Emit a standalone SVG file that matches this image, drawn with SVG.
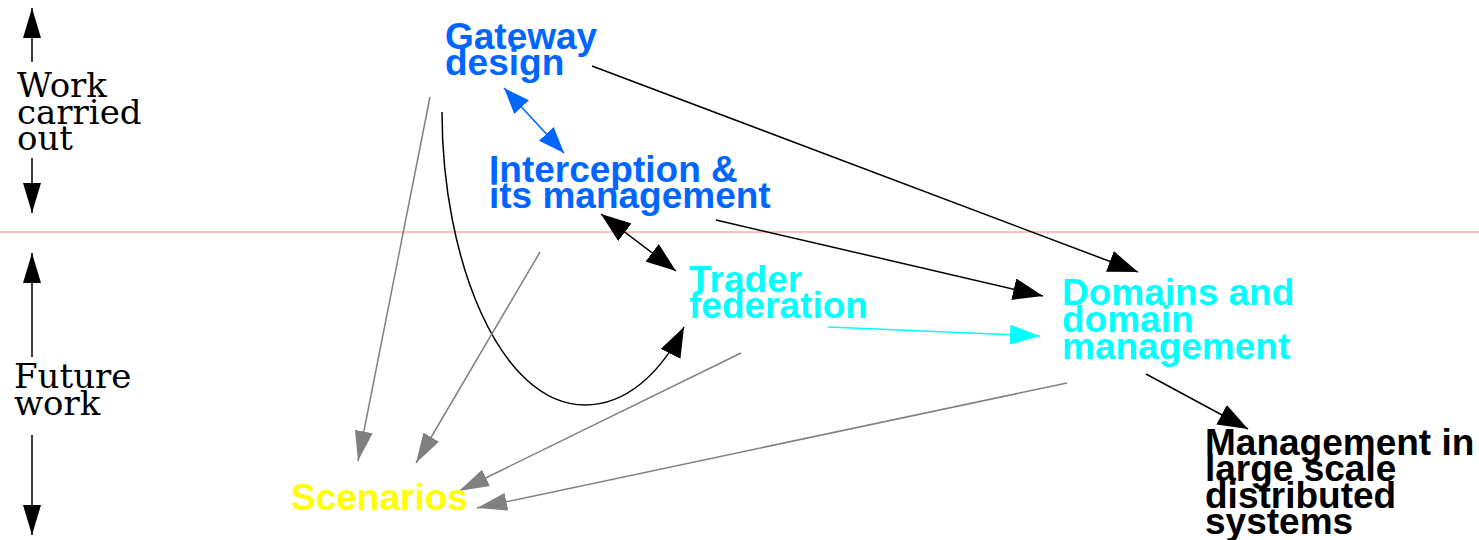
<svg xmlns="http://www.w3.org/2000/svg" width="1479" height="540" viewBox="0 0 1479 540">
<style>
.lbl{font-family:"Liberation Sans",Arial,sans-serif;font-weight:bold;font-size:37px}
.axis{font-family:"DejaVu Serif","Liberation Serif",serif;font-size:34px}
.blk{stroke:#000;stroke-width:1.5;fill:none}
.gry{stroke:#808080;stroke-width:1.5;fill:none}
</style>
<defs>
<marker id="ab" markerUnits="userSpaceOnUse" markerWidth="30" markerHeight="22" refX="30" refY="11" orient="auto-start-reverse"><path d="M0,0 L30,11 L0,22 z" fill="#000"/></marker>
<marker id="ag" markerUnits="userSpaceOnUse" markerWidth="30" markerHeight="18" refX="30" refY="9" orient="auto"><path d="M0,0 L30,9 L0,18 z" fill="#808080"/></marker>
<marker id="abl" markerUnits="userSpaceOnUse" markerWidth="26" markerHeight="20" refX="26" refY="10" orient="auto-start-reverse"><path d="M0,0 L26,10 L0,20 z" fill="#0066ff"/></marker>
<marker id="ac" markerUnits="userSpaceOnUse" markerWidth="30" markerHeight="20" refX="30" refY="10" orient="auto"><path d="M0,0 L30,10 L0,20 z" fill="#00ffff"/></marker>
<marker id="ax" markerUnits="userSpaceOnUse" markerWidth="30" markerHeight="18" refX="30" refY="9" orient="auto"><path d="M0,0 L30,9 L0,18 z" fill="#000"/></marker>
</defs>
<line x1="0" y1="232" x2="1479" y2="232" stroke="#ff8080" stroke-width="1"/>
<g id="axis-work">
<line class="blk" x1="32" y1="62" x2="32" y2="8" marker-end="url(#ax)"/>
<line class="blk" x1="32" y1="158" x2="32" y2="213" marker-end="url(#ax)"/>
<text class="axis"><tspan x="17" y="97">Work</tspan><tspan x="17" y="124">carried</tspan><tspan x="17" y="150">out</tspan></text>
</g>
<g id="axis-future">
<line class="blk" x1="32" y1="357" x2="32" y2="253" marker-end="url(#ax)"/>
<line class="blk" x1="32" y1="435" x2="32" y2="535" marker-end="url(#ax)"/>
<text class="axis"><tspan x="14" y="388">Future</tspan><tspan x="14" y="415">work</tspan></text>
</g>
<g id="connectors">
<line x1="504" y1="88" x2="564" y2="153" stroke="#0066ff" stroke-width="1.5" marker-start="url(#abl)" marker-end="url(#abl)"/>
<line class="blk" x1="592" y1="66" x2="1138" y2="272" marker-end="url(#ab)"/>
<line class="blk" x1="716" y1="220" x2="1043" y2="296" marker-end="url(#ab)"/>
<line class="blk" x1="601" y1="214" x2="676" y2="271" marker-start="url(#ab)" marker-end="url(#ab)"/>
<line x1="828" y1="327" x2="1040" y2="336" stroke="#00ffff" stroke-width="1.5" marker-end="url(#ac)"/>
<line class="blk" x1="1146" y1="374" x2="1248" y2="429" marker-end="url(#ab)"/>
<path class="blk" d="M442,112 C442,260 500,405 585,405 C625,405 660,375 684,327" marker-end="url(#ab)"/>
<line class="gry" x1="430" y1="97" x2="358" y2="461" marker-end="url(#ag)"/>
<line class="gry" x1="540" y1="252" x2="416" y2="463" marker-end="url(#ag)"/>
<line class="gry" x1="741" y1="353" x2="459" y2="491" marker-end="url(#ag)"/>
<line class="gry" x1="1067" y1="383" x2="477" y2="508" marker-end="url(#ag)"/>
</g>
<g id="gateway"><text class="lbl" fill="#0066ff"><tspan x="445" y="49">Gateway</tspan><tspan x="445" y="75">design</tspan></text></g>
<g id="interception"><text class="lbl" fill="#0066ff"><tspan x="489" y="182">Interception &amp;</tspan><tspan x="489" y="208">its management</tspan></text></g>
<g id="trader"><text class="lbl" fill="#00ffff"><tspan x="689" y="292">Trader</tspan><tspan x="689" y="318">federation</tspan></text></g>
<g id="domains"><text class="lbl" fill="#00ffff"><tspan x="1062" y="305">Domains and</tspan><tspan x="1062" y="332">domain</tspan><tspan x="1062" y="359">management</tspan></text></g>
<g id="management"><text class="lbl" fill="#000"><tspan x="1205" y="455">Management in</tspan><tspan x="1205" y="481">large scale</tspan><tspan x="1205" y="508">distributed</tspan><tspan x="1205" y="534">systems</tspan></text></g>
<g id="scenarios"><text class="lbl" fill="#ffff00"><tspan x="291" y="510">Scenarios</tspan></text></g>
</svg>
